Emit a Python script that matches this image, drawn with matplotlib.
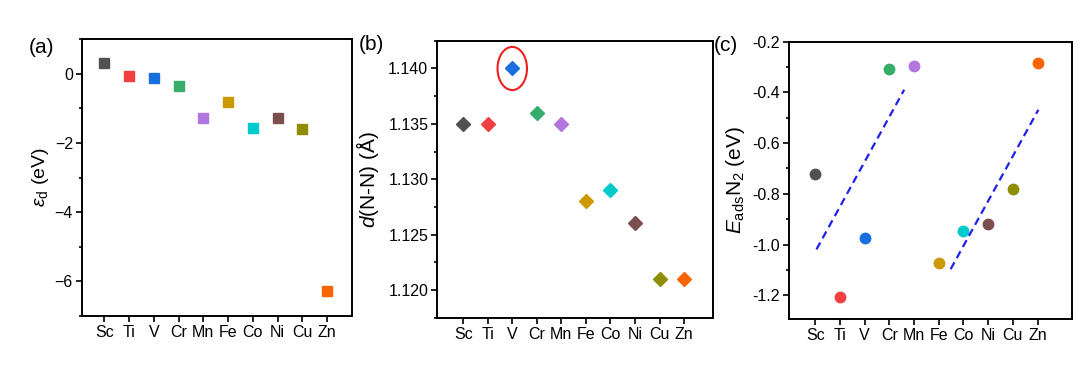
import numpy as np
import matplotlib.pyplot as plt
from matplotlib.patches import Ellipse
from matplotlib.ticker import MultipleLocator

plt.rcParams['font.family'] = ['Liberation Sans', 'DejaVu Sans']
plt.rcParams['mathtext.fontset'] = 'custom'
plt.rcParams['mathtext.rm'] = 'Liberation Sans'
plt.rcParams['mathtext.it'] = 'Liberation Sans:italic'

elements = ['Sc', 'Ti', 'V', 'Cr', 'Mn', 'Fe', 'Co', 'Ni', 'Cu', 'Zn']
colors = ['#515151', '#F14040', '#1A6FDF', '#37AD6B', '#B177DE',
          '#CC9900', '#00CBCC', '#7D4E4E', '#8E8E00', '#FB6501']

# (a) d-band centre
eps_d = [0.31, -0.07, -0.12, -0.37, -1.29, -0.83, -1.56, -1.29, -1.60, -6.28]
# (b) N-N bond length
d_nn = [1.135, 1.135, 1.140, 1.136, 1.135, 1.128, 1.129, 1.126, 1.121, 1.121]
# (c) N2 adsorption energy
e_ads = [-0.722, -1.208, -0.974, -0.309, -0.297, -1.074, -0.948, -0.919, -0.782, -0.284]
# dashed trend lines in (c)
trend1_x = [1.05, 4.6]
trend1_y = [-1.019, -0.39]
trend2_x = [6.48, 10.03]
trend2_y = [-1.097, -0.469]

x = np.arange(1, len(elements) + 1)

fig = plt.figure(figsize=(10.8, 3.71), dpi=100)
ax1 = fig.add_axes([0.0759, 0.148, 0.250, 0.747])
ax2 = fig.add_axes([0.405, 0.144, 0.255, 0.746])
ax3 = fig.add_axes([0.7306, 0.139, 0.2617, 0.749])


def style(ax):
    for s in ax.spines.values():
        s.set_linewidth(1.4)
    ax.tick_params(which='both', direction='out', top=False, right=False,
                   labelsize=11.5, width=1.2, pad=2.5)
    ax.tick_params(which='major', length=4)
    ax.tick_params(which='minor', length=2.5)
    ax.set_xticks(x)
    ax.set_xticklabels(elements)
    ax.tick_params(axis='x', which='minor', bottom=False)


# panel (a)
for i in range(len(elements)):
    ax1.plot(x[i], eps_d[i], 's', color=colors[i], markersize=6.5)
ax1.set_xlim(0.1, 11.0)
ax1.set_ylim(-7, 1)
ax1.yaxis.set_major_locator(MultipleLocator(2))
ax1.yaxis.set_minor_locator(MultipleLocator(1))
ax1.set_ylabel(r'$\varepsilon_{\rm d}$ (eV)', fontsize=14)
ax1.yaxis.set_label_coords(-0.115, 0.5)
style(ax1)

# panel (b)
for i in range(len(elements)):
    ax2.plot(x[i], d_nn[i], 'D', color=colors[i], markersize=7)
ax2.add_patch(Ellipse((x[2], d_nn[2]), 1.2, 0.0039, fill=False,
                      edgecolor='#F02020', linewidth=1.5))
ax2.set_xlim(-0.05, 11.17)
ax2.set_ylim(1.1175, 1.1425)
ax2.yaxis.set_major_locator(MultipleLocator(0.005))
ax2.yaxis.set_minor_locator(MultipleLocator(0.0025))
ax2.yaxis.set_major_formatter(plt.FormatStrFormatter('%.3f'))
ax2.set_ylabel(r'$d$(N-N) (Å)', fontsize=15)
ax2.yaxis.set_label_coords(-0.206, 0.5)
style(ax2)

# panel (c)
for i in range(len(elements)):
    ax3.plot(x[i], e_ads[i], 'o', color=colors[i], markersize=7.5)
ax3.plot(trend1_x, trend1_y, '--', color='#1F1FF0', linewidth=1.6, dashes=(3.5, 2.2))
ax3.plot(trend2_x, trend2_y, '--', color='#1F1FF0', linewidth=1.6, dashes=(3.5, 2.2))
ax3.set_xlim(-0.06, 11.38)
ax3.set_ylim(-1.295, -0.2)
ax3.yaxis.set_major_locator(MultipleLocator(0.2))
ax3.yaxis.set_minor_locator(MultipleLocator(0.1))
ax3.yaxis.set_major_formatter(plt.FormatStrFormatter('%.1f'))
ax3.set_ylabel(r'$E_{\rm ads}$N$_2$ (eV)', fontsize=15)
ax3.yaxis.set_label_coords(-0.149, 0.5)
style(ax3)

fig.text(0.038, 0.871, '(a)', fontsize=15, ha='center', va='center')
fig.text(0.344, 0.881, '(b)', fontsize=15, ha='center', va='center')
fig.text(0.672, 0.877, '(c)', fontsize=15, ha='center', va='center')

fig.savefig('out.png', dpi=100)
